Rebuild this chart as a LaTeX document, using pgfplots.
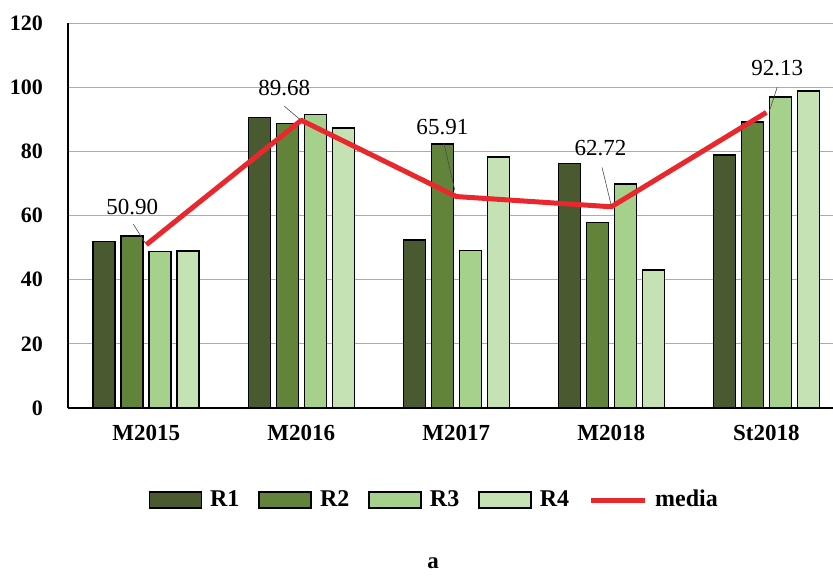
\documentclass[border=0pt]{standalone}
\usepackage{fontspec}
\setmainfont{Liberation Serif}
\usepackage{pgfplots}
\pgfplotsset{compat=1.18}

\definecolor{cR1}{RGB}{74,90,48}
\definecolor{cR2}{RGB}{98,132,58}
\definecolor{cR3}{RGB}{166,209,140}
\definecolor{cR4}{RGB}{197,226,181}
\definecolor{cMedia}{RGB}{232,40,44}

\newcommand{\lblfont}{\fontsize{11}{13}\selectfont}
\newcommand{\catfont}{\fontsize{11.5}{13}\selectfont}

\pgfplotsset{
  barleg/.style={legend image code/.code={%
      \draw[##1,bar shift=0pt] (0pt,-4pt) rectangle (26pt,4pt);}},
  lineleg/.style={legend image code/.code={%
      \draw[##1] (0pt,0pt) -- (27pt,0pt);}},
}

\begin{document}
\begin{tikzpicture}
\useasboundingbox (-34pt,-83.5pt) rectangle (382.5pt,204pt);

\begin{axis}[
    name=ax,
    at={(0,0)}, anchor=south west,
    width=382.5pt, height=192.5pt,
    scale only axis,
    xmin=-0.505, xmax=4.43,
    ymin=0, ymax=120,
    xtick={0,1,2,3,4},
    xticklabels={M2015,M2016,M2017,M2018,St2018},
    ytick={0,20,40,60,80,100,120},
    ymajorgrids=true,
    major grid style={draw=gray!65, line width=0.4pt},
    axis x line=bottom, axis y line=left,
    axis line style={-},
    x axis line style={line width=0.9pt},
    y axis line style={line width=0.6pt},
    major tick length=0pt,
    /pgf/number format/assume math mode=true,
    yticklabel style={font=\bfseries\lblfont, xshift=-9pt},
    xticklabel style={font=\bfseries\catfont, yshift=-5pt},
    legend columns=5,
    legend style={
        at={(0.48,-0.239)}, anchor=center,
        draw=none, fill=none,
        font=\bfseries\fontsize{12}{14}\selectfont,
        /tikz/every odd column/.append style={column sep=2pt},
        /tikz/every even column/.append style={column sep=7.5pt},
    },
]

\addplot[ybar, bar width=11pt, bar shift=-21pt, fill=cR1, draw=black, line width=0.8pt, barleg]
  coordinates {(0,51.9)(1,90.6)(2,52.3)(3,76.2)(4,78.8)};
\addlegendentry{R1}
\addplot[ybar, bar width=11pt, bar shift=-7pt, fill=cR2, draw=black, line width=0.8pt, barleg]
  coordinates {(0,53.7)(1,88.7)(2,82.2)(3,57.8)(4,89.2)};
\addlegendentry{R2}
\addplot[ybar, bar width=11pt, bar shift=7pt, fill=cR3, draw=black, line width=0.8pt, barleg]
  coordinates {(0,48.8)(1,91.5)(2,49.1)(3,69.8)(4,97.0)};
\addlegendentry{R3}
\addplot[ybar, bar width=11pt, bar shift=21pt, fill=cR4, draw=black, line width=0.8pt, barleg]
  coordinates {(0,49.0)(1,87.3)(2,78.3)(3,43.1)(4,98.9)};
\addlegendentry{R4}

\addplot[sharp plot, color=cMedia, line width=2.5pt, line join=round, mark=none, lineleg]
  coordinates {(0,50.90)(1,89.68)(2,65.91)(3,62.72)(4,92.13)};
\addlegendentry{media}

% etiquetas de la media con lineas guia
\draw[gray!60!black, line width=0.3pt] (axis cs:-0.084,57.3) -- (axis cs:-0.006,51.4);
\draw[gray!60!black, line width=0.3pt] (axis cs:0.89,94.1) -- (axis cs:0.99,90.0);
\draw[gray!60!black, line width=0.3pt] (axis cs:1.92,82.5) -- (axis cs:1.99,67.9);
\draw[gray!60!black, line width=0.3pt] (axis cs:2.94,75.0) -- (axis cs:3.0,63.0);
\draw[gray!60!black, line width=0.3pt] (axis cs:4.07,100.0) -- (axis cs:4.02,92.6);

\node[font=\catfont] at (axis cs:-0.09,62.6) {50.90};
\node[font=\catfont] at (axis cs:0.89,99.7) {89.68};
\node[font=\catfont] at (axis cs:1.91,87.5) {65.91};
\node[font=\catfont] at (axis cs:2.93,81.0) {62.72};
\node[font=\catfont] at (axis cs:4.07,106.0) {92.13};
\end{axis}

\node[font=\bfseries\fontsize{11.5}{13}\selectfont] at (182.5pt,-77.5pt) {a};
\end{tikzpicture}
\end{document}
